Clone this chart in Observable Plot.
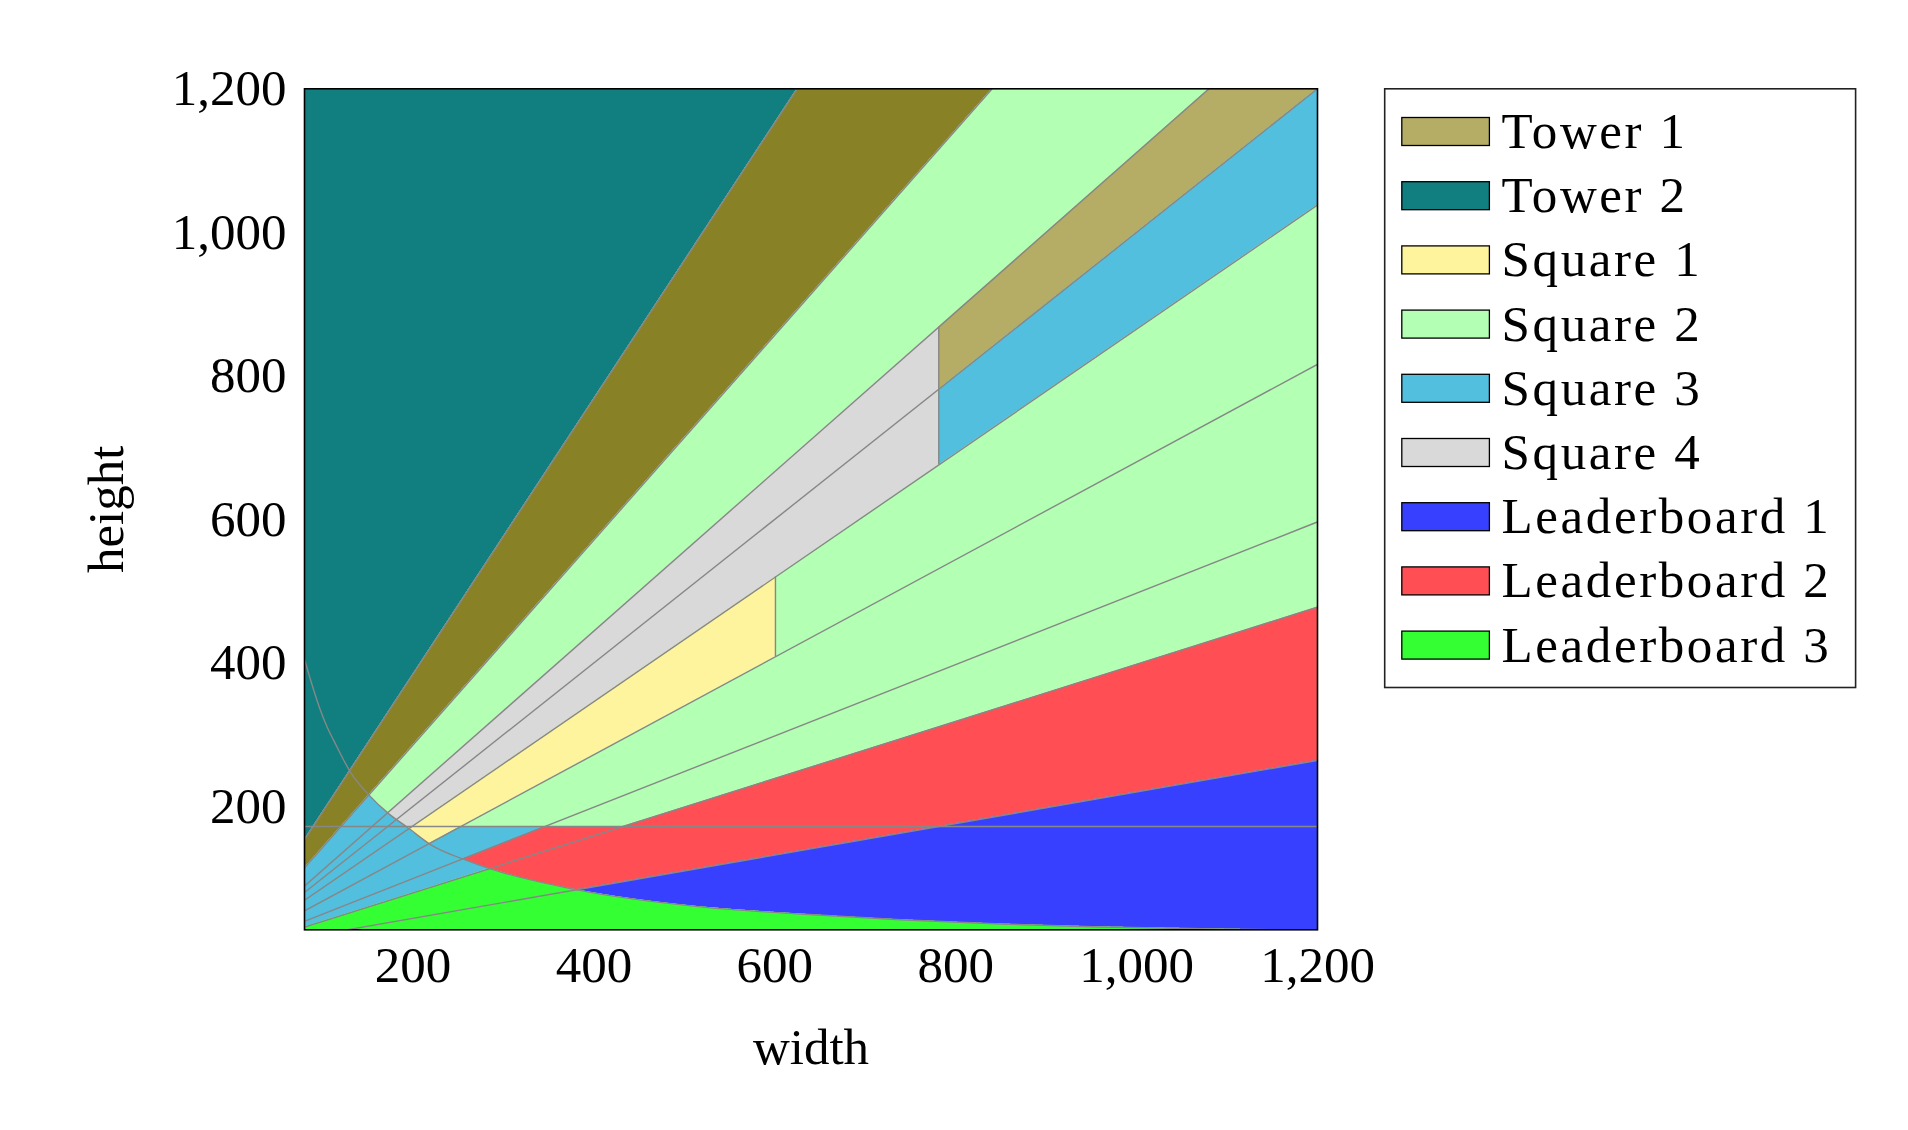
<!DOCTYPE html>
<html>
<head>
<meta charset="utf-8">
<script src="https://cdn.jsdelivr.net/npm/d3@7"></script>
<script src="https://cdn.jsdelivr.net/npm/@observablehq/plot@0.6"></script>
<style>
html, body { margin: 0; padding: 0; background: #fff; }
#wrap { position: relative; width: 1908px; height: 1130px; overflow: hidden; background: #fff; }
#legend { position: absolute; left: 0; top: 0; pointer-events: none; }
</style>
</head>
<body>
<div id="wrap"></div>
<script>
// ---------------- data ----------------
const regionNames  = ["Tower 1", "Tower 2", "Square 1", "Square 2", "Square 3", "Square 4", "Leaderboard 1", "Leaderboard 2", "Leaderboard 3"];
const regionColors = ["#b5ad66", "#117f7f", "#fff49e", "#b3ffb3", "#52bfdf", "#d9d9d9", "#3840ff", "#ff4f55", "#33ff33"];
const towerOverlapColor = "#898126";   // band where Tower 1 and Tower 2 overlap

// aspect-ratio boundaries (height / width), rays through the origin
const raySlopes = [1.921, 1.428, 1.111, 1.0, 0.865, 0.68, 0.497, 0.398, 0.22];
// horizontal height limit and width limits
const heightCut = 172;
const widthCutSquare1 = 600.7;
const widthCutSquare4 = 781.3;
// area-limit curve (width, height)
const curveWidths  = [80, 90.3, 97.7, 105.1, 112.4, 130.9, 151.9, 173.3, 193.6, 219.3, 259.9, 285.7, 381.5, 517.8, 628.4, 739, 849.6, 960.2, 1070.8, 1200];
const curveHeights = [405, 361.4, 333.5, 310.2, 291.7, 247.5, 215, 189.5, 170.9, 146.8, 124.5, 112.9, 83.6, 60, 50, 42, 36, 32, 29.5, 27];

const xTicks = [200, 400, 600, 800, 1000, 1200];
const yTicks = [200, 400, 600, 800, 1000, 1200];
const xDomain = [80, 1200];
const yDomain = [28, 1200];

// ---------------- geometry helpers ----------------
const [sA, sB, sC, sOne, sD, sE, sF, sG, sH] = raySlopes;
const yTop = yDomain[1], yBottom = yDomain[0];
const colorOf = name => regionColors[regionNames.indexOf(name)];
const lineColor = "#878787";
const lineWidth = 1.4;

function curveAt(w) {
  let i = d3.bisectRight(curveWidths, w) - 1;
  i = Math.max(0, Math.min(curveWidths.length - 2, i));
  const x0 = Math.log(curveWidths[i]), x1 = Math.log(curveWidths[i + 1]);
  const y0 = Math.log(curveHeights[i]), y1 = Math.log(curveHeights[i + 1]);
  const t = (Math.log(w) - x0) / (x1 - x0);
  return Math.exp(y0 + t * (y1 - y0));
}

const grid = Array.from(new Set([...d3.range(xDomain[0], xDomain[1], 0.5), xDomain[1], widthCutSquare1, widthCutSquare4])).sort((a, b) => a - b);

// painter's order: later regions cover earlier ones
const regions = [
  {fill: colorOf("Square 2"), lo: x => sG * x, hi: x => Math.min(sB * x, yTop)},
  {fill: colorOf("Square 3"), lo: x => sG * x, hi: x => Math.min(sB * x, Math.max(curveAt(x), heightCut))},
  {fill: colorOf("Square 4"), lo: x => Math.max(sD * x, curveAt(x)), hi: x => sC * x, xmax: widthCutSquare4},
  {fill: colorOf("Square 1"), lo: x => Math.max(sE * x, curveAt(x)), hi: x => sD * x, xmax: widthCutSquare1},
  {fill: colorOf("Tower 1"), lo: x => sOne * x, hi: x => Math.min(sC * x, yTop), xmin: widthCutSquare4},
  {fill: colorOf("Square 3"), lo: x => sD * x, hi: x => Math.min(sOne * x, yTop), xmin: widthCutSquare4},
  {fill: colorOf("Leaderboard 2"), lo: x => Math.max(sH * x, curveAt(x)), hi: x => Math.min(sF * x, Math.max(heightCut, sG * x))},
  {fill: colorOf("Leaderboard 1"), lo: x => curveAt(x), hi: x => sH * x},
  {fill: colorOf("Leaderboard 3"), lo: x => yBottom - 5, hi: x => Math.min(sG * x, curveAt(x))},
  {fill: colorOf("Tower 2"), lo: x => Math.min(sA * x, yTop), hi: x => yTop},
  {fill: towerOverlapColor, lo: x => Math.min(sB * x, yTop), hi: x => Math.min(sA * x, yTop)}
];

const regionMarks = regions.map(r => {
  const xs = grid.filter(x => (r.xmin == null || x >= r.xmin) && (r.xmax == null || x <= r.xmax));
  const ok = x => r.hi(x) - r.lo(x) > 0;
  return Plot.areaY(xs, {
    x: d => d,
    y1: d => ok(d) ? r.lo(d) : NaN,
    y2: d => ok(d) ? r.hi(d) : NaN,
    fill: r.fill,
    clip: true
  });
});

const curvePoints = curveWidths.map((w, i) => ({w, h: curveHeights[i]}));
const cutSegments = [
  {x: widthCutSquare1, lo: sE, hi: sD},
  {x: widthCutSquare4, lo: sD, hi: sC}
];

const plot = Plot.plot({
  width: 1908,
  height: 1130,
  marginLeft: 304,
  marginRight: 591,
  marginTop: 88.3,
  marginBottom: 200.7,
  style: {fontFamily: "'Liberation Serif', 'DejaVu Serif', serif", fontSize: "51px", background: "white", color: "black"},
  x: {domain: xDomain, label: null},
  y: {domain: yDomain, label: null},
  marks: [
    ...regionMarks,
    Plot.link(raySlopes, {
      x1: 0, y1: 0,
      x2: s => s > 1 ? yTop / s : xDomain[1],
      y2: s => s > 1 ? yTop : s * xDomain[1],
      stroke: lineColor, strokeWidth: lineWidth, clip: true
    }),
    Plot.ruleY([heightCut], {stroke: lineColor, strokeWidth: lineWidth}),
    Plot.ruleX(cutSegments, {x: "x", y1: d => d.lo * d.x, y2: d => d.hi * d.x, stroke: lineColor, strokeWidth: lineWidth}),
    Plot.line(curvePoints, {x: "w", y: "h", curve: "monotone-x", stroke: lineColor, strokeWidth: lineWidth, clip: true}),
    Plot.frame({stroke: "black", strokeWidth: 1.6}),
    Plot.axisX(xTicks, {tickSize: 0, tickPadding: 16, tickFormat: d3.format(","), label: null}),
    Plot.axisY(yTicks, {tickSize: 0, tickPadding: 18, tickFormat: d3.format(","), label: null}),
    Plot.text(["width"], {text: d => d, frameAnchor: "bottom", textAnchor: "middle", lineAnchor: "middle", dy: 118, fontSize: 51, letterSpacing: "1.5px"}),
    Plot.text(["height"], {text: d => d, frameAnchor: "left", textAnchor: "middle", lineAnchor: "middle", dx: -198, rotate: -90, fontSize: 51, letterSpacing: "1px"})
  ]
});

const wrap = document.getElementById("wrap");
wrap.appendChild(plot);

// ---------------- legend ----------------
const legend = d3.select(wrap).append("svg")
  .attr("id", "legend")
  .attr("width", 1908)
  .attr("height", 1130)
  .style("font-family", "'Liberation Serif', 'DejaVu Serif', serif");

legend.append("rect")
  .attr("x", 1384.7).attr("y", 88.8)
  .attr("width", 470.9).attr("height", 598.7)
  .attr("fill", "white").attr("stroke", "#222").attr("stroke-width", 1.6);

const rowY0 = 131, rowStep = 64.2;
const rows = legend.selectAll("g.row").data(regionNames).join("g").attr("class", "row")
  .attr("transform", (d, i) => `translate(0,${rowY0 + i * rowStep})`);
rows.append("rect")
  .attr("x", 1401.8).attr("y", -13.5)
  .attr("width", 87.6).attr("height", 28)
  .attr("fill", (d, i) => regionColors[i])
  .attr("stroke", "black").attr("stroke-width", 1.3);
rows.append("text")
  .attr("x", 1501.6).attr("y", 17)
  .attr("font-size", 51)
  .attr("letter-spacing", "2.6px")
  .attr("fill", "black")
  .text(d => d);
</script>
</body>
</html>
